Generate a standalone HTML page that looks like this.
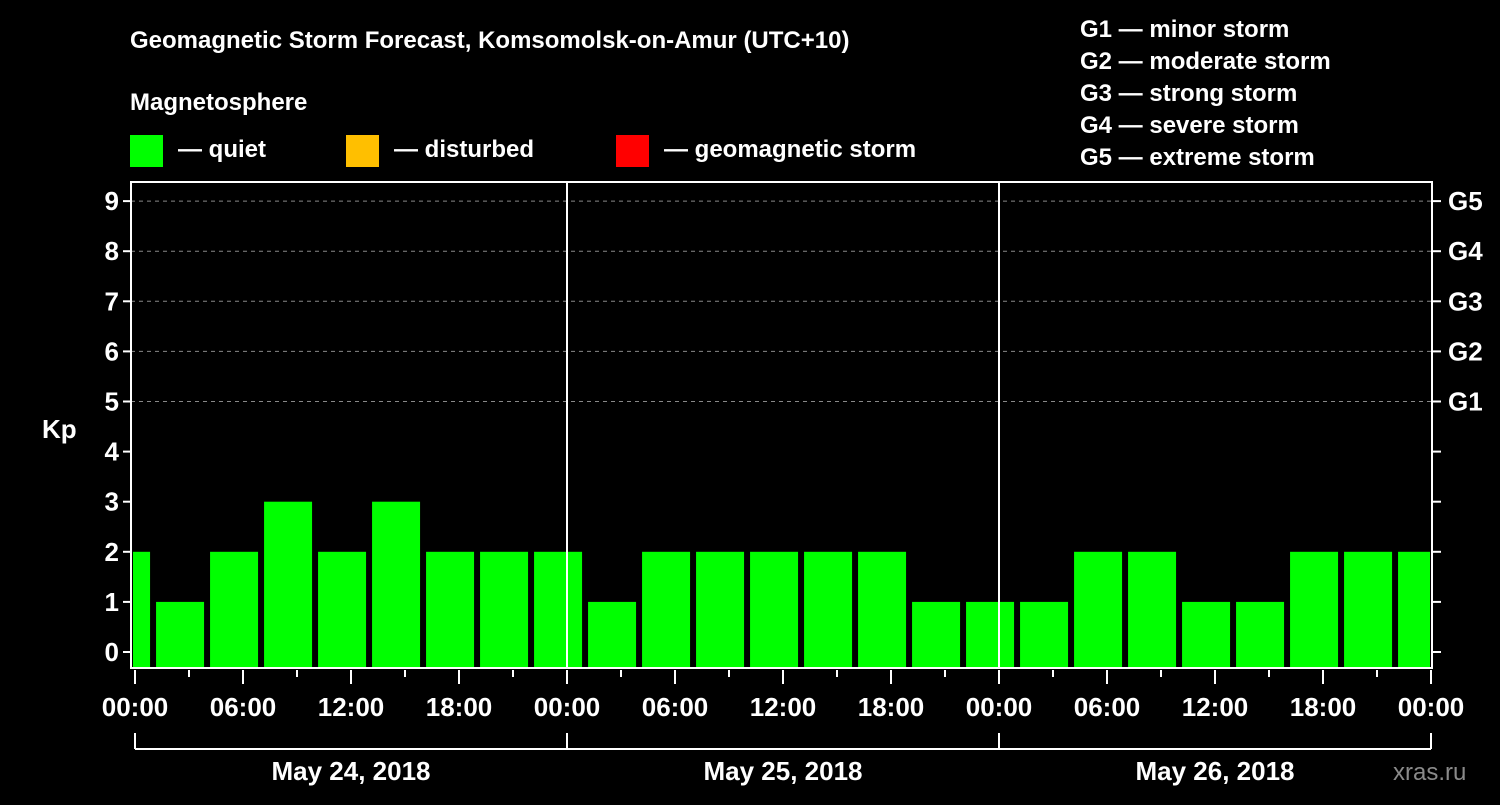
<!DOCTYPE html>
<html><head><meta charset="utf-8"><style>
body{margin:0;background:#000;width:1500px;height:800px;overflow:hidden}
svg text{font-family:"Liberation Sans",sans-serif;font-weight:bold;fill:#fff}
</style></head><body>
<svg id="c" width="1500" height="800">
<text x="130" y="48" font-size="24">Geomagnetic Storm Forecast, Komsomolsk-on-Amur (UTC+10)</text>
<text x="130" y="110" font-size="24">Magnetosphere</text>
<rect x="130" y="135" width="33" height="32" fill="#00ff00"/>
<text x="178" y="157" font-size="24">— quiet</text>
<rect x="346" y="135" width="33" height="32" fill="#ffbf00"/>
<text x="394" y="157" font-size="24">— disturbed</text>
<rect x="616" y="135" width="33" height="32" fill="#ff0000"/>
<text x="664" y="157" font-size="24">— geomagnetic storm</text>
<g font-size="24">
<text x="1080" y="37">G1 — minor storm</text>
<text x="1080" y="69">G2 — moderate storm</text>
<text x="1080" y="101">G3 — strong storm</text>
<text x="1080" y="133">G4 — severe storm</text>
<text x="1080" y="165">G5 — extreme storm</text>
</g>
<text x="42" y="438" font-size="26">Kp</text>
<text x="1393" y="780" font-size="24" fill="#888" style="fill:#8a8a8a;font-weight:normal">xras.ru</text>
<g id="plot"></g>
</svg>
<script>
const values=[2,1,2,3,2,3,2,2,2,1,2,2,2,2,2,1,1,1,2,2,1,1,2,2,2];
const barHours=[-0.5,2.5,5.5,8.5,11.5,14.5,17.5,20.5,23.5,26.5,29.5,32.5,35.5,38.5,41.5,44.5,47.5,50.5,53.5,56.5,59.5,62.5,65.5,68.5,71.5];
const timeLabels=["00:00","06:00","12:00","18:00"];
const dayLabels=["May 24, 2018","May 25, 2018","May 26, 2018"];
const gLabels=["G1","G2","G3","G4","G5"];
const kpTicks=[0,1,2,3,4,5,6,7,8,9];
const L=131,R=1432,T=182,B=668,X0=135,PXH=18;
const x=h=>X0+h*PXH;
const y=v=>652-v*50.1;
const NS="http://www.w3.org/2000/svg";
const g=document.getElementById('plot');
function mk(t,a){const e=document.createElementNS(NS,t);for(const k in a)e.setAttribute(k,a[k]);g.appendChild(e);return e;}
const cp=mk('clipPath',{id:'cl'});const cr=document.createElementNS(NS,'rect');
cr.setAttribute('x',L+2);cr.setAttribute('y',T);cr.setAttribute('width',R-L-4);cr.setAttribute('height',B-T);cp.appendChild(cr);
values.forEach((v,i)=>{const c=barHours[i];
const r=mk('rect',{x:x(c-1.33),y:y(v),width:48,height:B-y(v),fill:'#00ff00','clip-path':'url(#cl)'});

});
kpTicks.forEach(k=>{
if(k>=5){const l=mk('line',{x1:L,x2:R,y1:y(k),y2:y(k),stroke:'#888','stroke-dasharray':'4 4'});


const gl=mk('text',{x:1448,y:y(k)+9,'font-size':26});gl.textContent=gLabels[k-5];

}
mk('line',{x1:L-8,x2:L,y1:y(k),y2:y(k),stroke:'#fff','stroke-width':2});
mk('line',{x1:R,x2:R+9,y1:y(k),y2:y(k),stroke:'#fff','stroke-width':2});
const t=mk('text',{x:L-12,y:y(k)+9,'font-size':26,'text-anchor':'end'});t.textContent=k;

});
const box=mk('rect',{x:L,y:T,width:R-L,height:B-T,fill:'none',stroke:'#fff','stroke-width':2});


for(let d=1;d<3;d++)mk('line',{x1:x(24*d),x2:x(24*d),y1:T,y2:B,stroke:'#fff','stroke-width':2});
for(let h=0;h<=72;h+=3){const maj=h%6==0;
mk('line',{x1:x(h),x2:x(h),y1:B+2,y2:B+(maj?16:9),stroke:'#fff','stroke-width':2});
if(maj){const t=mk('text',{x:x(h),y:716,'font-size':26,'text-anchor':'middle'});t.textContent=timeLabels[(h/6)%4];

}}
mk('line',{x1:x(0),x2:x(72),y1:749,y2:749,stroke:'#fff','stroke-width':2});
for(let d=0;d<=3;d++)mk('line',{x1:x(24*d),x2:x(24*d),y1:733,y2:749,stroke:'#fff','stroke-width':2});
dayLabels.forEach((s,d)=>{const t=mk('text',{x:x(24*d+12),y:780,'font-size':26,'text-anchor':'middle'});t.textContent=s;

});
</script>
</body></html>
